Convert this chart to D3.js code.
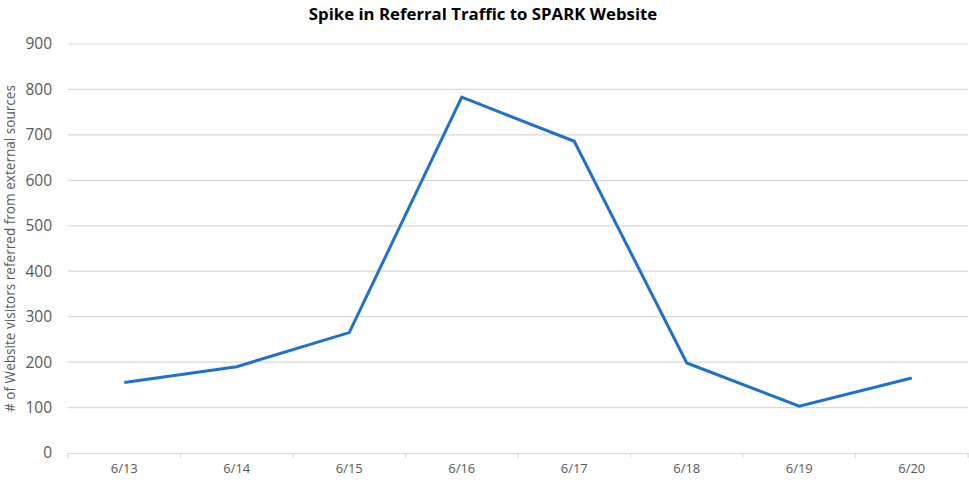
<!DOCTYPE html>
<html><head><meta charset="utf-8">
<script src="https://cdn.jsdelivr.net/npm/d3@7"></script>
<style>body{margin:0;background:#fff;} svg{display:block;font-family:"Open Sans",sans-serif;}</style>
</head><body><div id="chart"></div>
<script>
const categories = ["6/13","6/14","6/15","6/16","6/17","6/18","6/19","6/20"];
const visitors = [155, 190, 265, 783, 686, 198, 103, 165];
const yTicks = [0,100,200,300,400,500,600,700,800,900];
const title = "Spike in Referral Traffic to SPARK Website";
const yTitle = "# of Website visitors referred from external sources";

const W = 969, H = 483;
const m = {left: 68, right: 1, top: 44, bottom: 30};
const svg = d3.select("#chart").append("svg").attr("width", W).attr("height", H);
const x = d3.scaleBand().domain(categories).range([m.left, W - m.right]);
const y = d3.scaleLinear().domain([0, 900]).range([H - m.bottom, m.top]);

svg.append("g").selectAll("line").data(yTicks.filter(d => d > 0)).join("line")
  .attr("x1", m.left).attr("x2", W - m.right)
  .attr("y1", d => y(d)).attr("y2", d => y(d))
  .attr("stroke", "#d9d9d9").attr("stroke-width", 1.2);

const yAxis = svg.append("g").attr("transform", `translate(${m.left},0)`)
  .call(d3.axisLeft(y).tickValues(yTicks).tickSize(0).tickPadding(16));
yAxis.select(".domain").remove();
yAxis.selectAll("text").attr("fill", "#595959").style("font-size", "15.5px").style("font-family", "'Open Sans',sans-serif");

const xAxis = svg.append("g").attr("transform", `translate(0,${y(0)})`)
  .call(d3.axisBottom(x).tickSize(0).tickPadding(11));
xAxis.select(".domain").attr("stroke", "#d9d9d9").attr("stroke-width", 1.2);
xAxis.selectAll("text").attr("fill", "#595959").style("font-size", "13px").style("font-family", "'Open Sans',sans-serif");
const bounds = categories.map(c => x(c)).concat([x.range()[1]]);
svg.append("g").selectAll("line").data(bounds).join("line")
  .attr("x1", d => d).attr("x2", d => d).attr("y1", y(0)).attr("y2", y(0) + 5)
  .attr("stroke", "#d9d9d9").attr("stroke-width", 1.2);

const line = d3.line().x((d, i) => x(categories[i]) + x.bandwidth() / 2).y(d => y(d));
svg.append("path").datum(visitors).attr("d", line)
  .attr("fill", "none").attr("stroke", "#1f72c7").attr("stroke-width", 3).attr("stroke-linejoin", "miter");

svg.append("text").attr("x", 483).attr("y", 20).attr("text-anchor", "middle")
  .style("font-size", "16.8px").style("font-weight", "bold").attr("fill", "#000").text(title);

svg.append("text").attr("transform", `translate(15,${(y(0)+y(900))/2}) rotate(-90)`)
  .attr("text-anchor", "middle").style("font-size", "13.6px").attr("fill", "#595959").text(yTitle);
</script></body></html>
